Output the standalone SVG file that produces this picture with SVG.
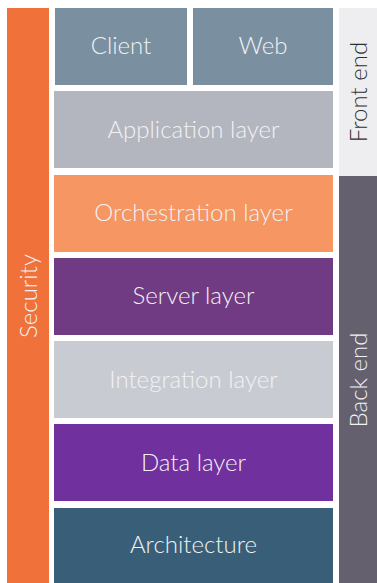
<svg xmlns="http://www.w3.org/2000/svg" width="377" height="583" viewBox="0 0 377 583">
  <style>
    .lbl { font-family: Lato, "Open Sans", "Liberation Sans", sans-serif; font-size: 24px; fill: #F2F2F4; text-anchor: middle; dominant-baseline: central; font-weight: 300; }
    .dark { fill: #2E2E2E; }
  </style>
  <rect x="0" y="0" width="377" height="583" fill="#FFFFFF"/>
  <g id="security">
    <rect x="7" y="8" width="42" height="575" fill="#F07139"/>
    <text class="lbl" transform="translate(27,296) rotate(-90)">Security</text>
  </g>
  <g id="client">
    <rect x="55" y="8" width="132" height="77" fill="#7A90A1"/>
    <text class="lbl" x="121" y="44.5">Client</text>
  </g>
  <g id="web">
    <rect x="193" y="8" width="140" height="77" fill="#7A90A1"/>
    <text class="lbl" x="263" y="44.5">Web</text>
  </g>
  <g id="application">
    <rect x="54" y="91" width="279" height="77" fill="#B3B6BE"/>
    <text class="lbl" x="193.5" y="128">Application layer</text>
  </g>
  <g id="orchestration">
    <rect x="54" y="175" width="279" height="77" fill="#F59663"/>
    <text class="lbl" x="193.5" y="211.5">Orchestration layer</text>
  </g>
  <g id="server">
    <rect x="54" y="258" width="279" height="77" fill="#703B82"/>
    <text class="lbl" x="193.5" y="294.5">Server layer</text>
  </g>
  <g id="integration">
    <rect x="54" y="341" width="279" height="77" fill="#C8CBD1"/>
    <text class="lbl" x="193.5" y="378">Integration layer</text>
  </g>
  <g id="data">
    <rect x="54" y="424" width="279" height="77" fill="#70309D"/>
    <text class="lbl" x="193.5" y="461">Data layer</text>
  </g>
  <g id="architecture">
    <rect x="54" y="508" width="279" height="75" fill="#385F77"/>
    <text class="lbl" x="193.5" y="543.5">Architecture</text>
  </g>
  <g id="front-end">
    <rect x="339" y="8" width="38" height="168" fill="#EEEEF0"/>
    <text class="lbl dark" transform="translate(357,92) rotate(-90)">Front end</text>
  </g>
  <g id="back-end">
    <rect x="339" y="176" width="38" height="407" fill="#65606E"/>
    <text class="lbl" transform="translate(357,380) rotate(-90)">Back end</text>
  </g>
  <g id="connectors"/>
</svg>
